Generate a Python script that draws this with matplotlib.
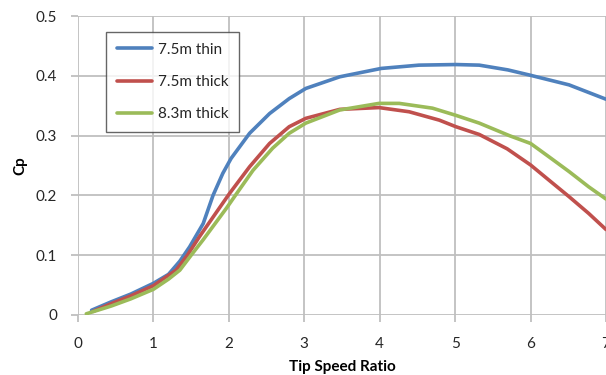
import matplotlib
matplotlib.use("Agg")
import matplotlib.pyplot as plt

plt.rcParams['font.family'] = ['Lato', 'DejaVu Sans']

blue_x = [0.18, 0.44, 0.7, 1.0, 1.2, 1.35, 1.48, 1.66, 1.79, 1.92, 2.03, 2.275, 2.54, 2.8, 3.02, 3.47, 4.02, 4.52, 5.01, 5.32, 5.7, 6.0, 6.51, 7.0]
blue_y = [0.008, 0.022, 0.035, 0.053, 0.068, 0.09, 0.114, 0.153, 0.2, 0.237, 0.262, 0.304, 0.337, 0.362, 0.379, 0.3985, 0.4125, 0.418, 0.419, 0.418, 0.41, 0.401, 0.385, 0.361]

red_x = [0.2, 0.44, 0.7, 1.0, 1.15, 1.3, 1.45, 1.61, 1.88, 2.01, 2.275, 2.54, 2.8, 3.02, 3.47, 3.99, 4.39, 4.79, 5.01, 5.32, 5.69, 6.0, 6.24, 6.51, 6.77, 7.0]
red_y = [0.006, 0.019, 0.032, 0.049, 0.062, 0.075, 0.1, 0.131, 0.18, 0.2035, 0.248, 0.287, 0.315, 0.329, 0.344, 0.347, 0.340, 0.326, 0.315, 0.302, 0.278, 0.251, 0.226, 0.198, 0.170, 0.143]

green_x = [0.11, 0.44, 0.7, 1.0, 1.2, 1.35, 1.5, 1.66, 1.97, 2.08, 2.32, 2.58, 2.8, 3.02, 3.47, 3.99, 4.26, 4.7, 5.01, 5.32, 5.72, 6.0, 6.24, 6.51, 6.77, 7.0]
green_y = [0.002, 0.015, 0.027, 0.043, 0.06, 0.075, 0.1, 0.126, 0.179, 0.199, 0.242, 0.279, 0.304, 0.321, 0.343, 0.354, 0.354, 0.346, 0.334, 0.321, 0.3, 0.287, 0.265, 0.240, 0.2145, 0.194]

labels = ["7.5m thin", "7.5m thick", "8.3m thick"]
x_ticks = [0, 1, 2, 3, 4, 5, 6, 7]
y_ticks = [0, 0.1, 0.2, 0.3, 0.4, 0.5]
y_tick_labels = ["0", "0.1", "0.2", "0.3", "0.4", "0.5"]

fig = plt.figure(figsize=(6.06, 3.75), dpi=100)
ax = fig.add_axes([0.1287, 0.16, 0.8713, 0.797])

kw = dict(lw=2.6, solid_capstyle='round', solid_joinstyle='round')
ax.plot(blue_x, blue_y, color='#4F81BD', label=labels[0], **kw)
ax.plot(red_x, red_y, color='#C0504D', label=labels[1], **kw)
ax.plot(green_x, green_y, color='#9BBB59', label=labels[2], **kw)

ax.set_xlim(0, 7)
ax.set_ylim(0, 0.5)
ax.set_xticks(x_ticks)
ax.set_yticks(y_ticks)
ax.set_yticklabels(y_tick_labels)
ax.grid(True, color='#BFBFBF', lw=1.3)
ax.set_axisbelow(True)
for s in ax.spines.values():
    s.set_visible(False)
ax.tick_params(axis='both', direction='out', length=5, width=1.3, color='#BFBFBF',
               labelsize=11, labelcolor='#262626')
ax.tick_params(axis='x', pad=11)
ax.tick_params(axis='y', pad=10)
ax.set_xlabel("Tip Speed Ratio", fontsize=11, fontweight='bold', labelpad=6)
ax.set_ylabel("Cp", fontsize=11, fontweight='bold', labelpad=6)

leg = ax.legend(loc='upper left', bbox_to_anchor=(0.053, 0.9465), borderaxespad=0,
                fontsize=11, frameon=True, fancybox=False, edgecolor='#404040',
                handlelength=2.3, labelspacing=1.2, borderpad=0.7, handletextpad=0.4)
leg.get_frame().set_linewidth(1.0)
for t in leg.get_texts():
    t.set_color('#262626')

fig.savefig("out.png", dpi=100)
